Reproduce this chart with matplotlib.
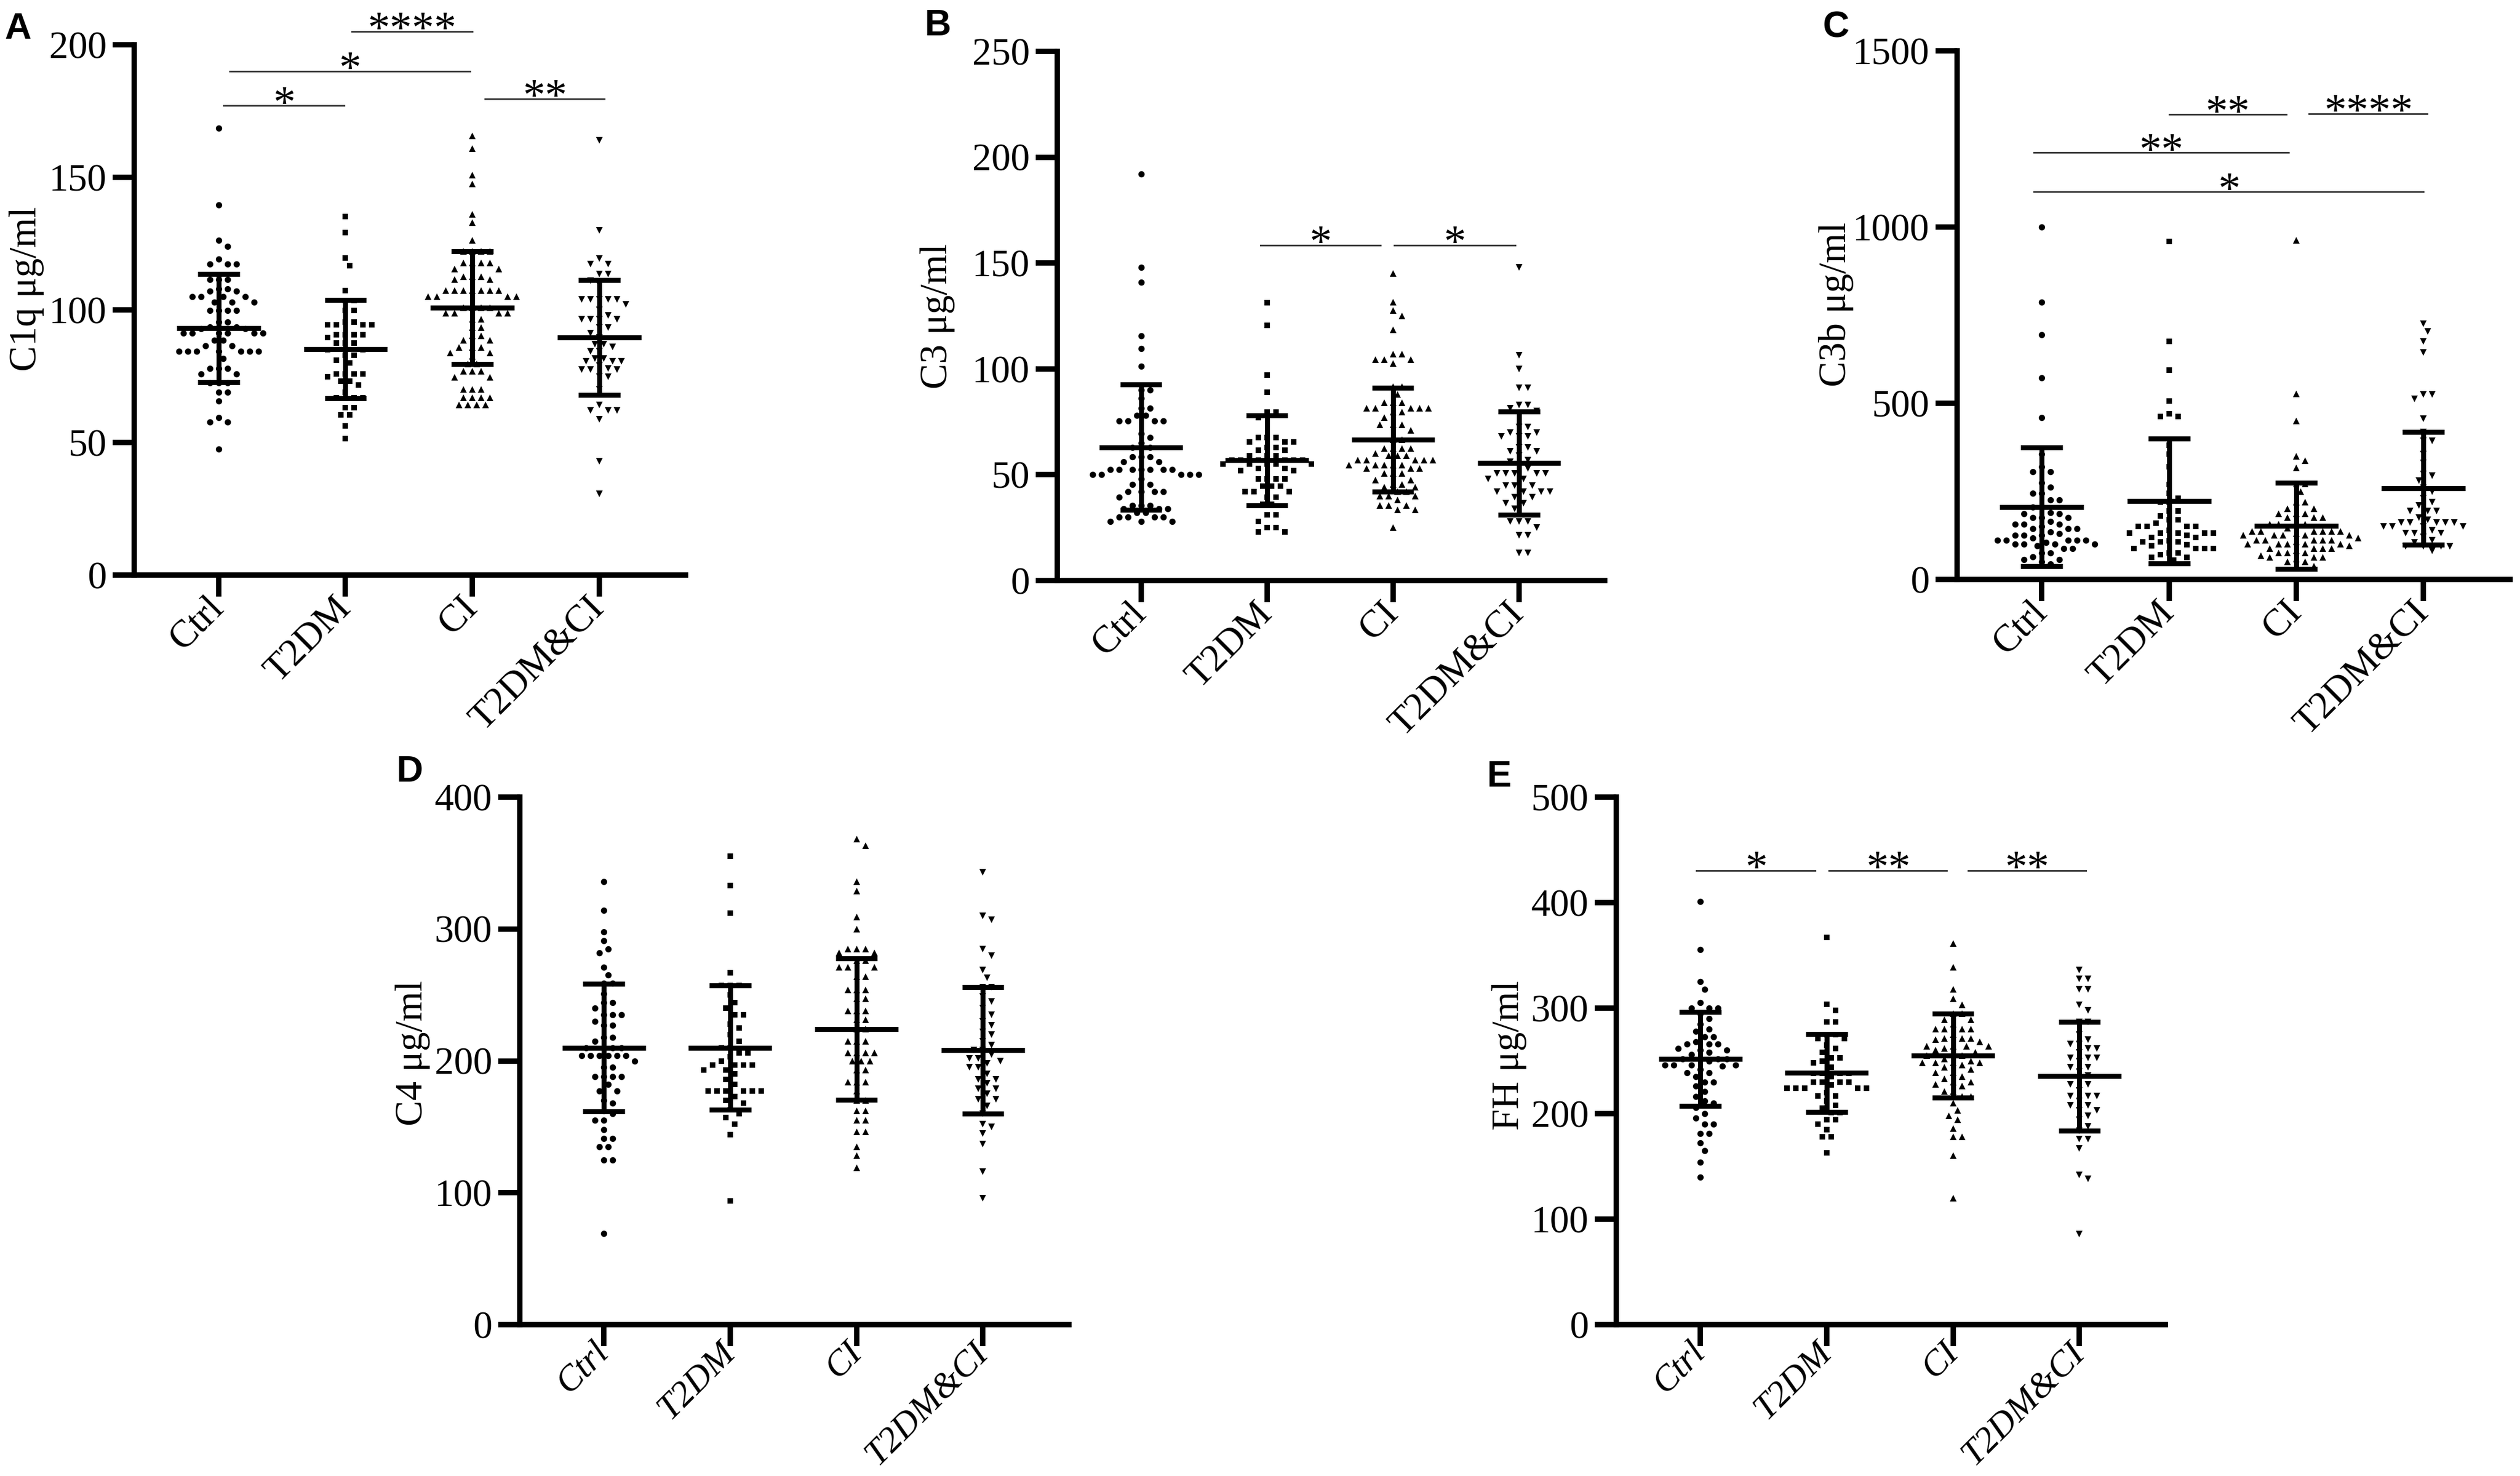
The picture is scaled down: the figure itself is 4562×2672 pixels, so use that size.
import matplotlib
matplotlib.use("Agg")
import matplotlib.pyplot as plt
import numpy as np

plt.rcParams['font.family'] = ['Liberation Serif', 'DejaVu Serif']

groups = ['Ctrl', 'T2DM', 'CI', 'T2DM&CI']
markers = ['o', 's', '^', 'v']
msizes = [8.2, 7.4, 8.8, 8.8]

# ---- C1q (A) ----
c1q_ctrl = [168.5, 139.6, 126.3, 123.9, 119.2, 117.3, 117.3, 117.3, 111.4, 111.4, 111.4, 108, 108, 107, 107,
            105, 105, 105, 105, 103, 103, 103, 99.7, 99.7, 99.7, 99.7, 95.5, 95.5, 93.5, 93.5, 93, 93,
            91.2, 91.2, 91.2, 91.2, 91.2, 91.2, 88.6, 88.6, 86.4, 86.4, 84.3, 84.3, 84.3, 84.3, 84.3, 84.3, 84.3,
            81.7, 78, 78, 78, 75.8, 75.8, 72.6, 72.6, 72.6, 68.9, 68.9, 65.7, 59.3, 57.7, 57.7, 47.6]
c1q_t2dm = [135.3, 129.2, 119.6, 116.7, 107.2, 103.5, 103.5, 99.7, 99.7, 95.5, 95.5, 94.4, 94.4, 94.4, 94.4,
            90.7, 90.7, 90.7, 90.7, 89.5, 87.5, 87.5, 87.5, 85, 85, 83, 83, 81.1, 80, 75.8, 75.8, 75.8, 75.8,
            74.8, 73.2, 73.2, 71.6, 68.9, 66.8, 66.8, 66.8, 63.1, 63.1, 60.4, 60.4, 56.2, 51.4]
c1q_ci = [165.6, 160.9, 150.8, 147.4, 136.1, 132.9, 126.3, 122, 122, 122, 122, 117.8, 117.8, 117.8, 117.8,
          115.5, 115.5, 112.5, 112.5, 112.5, 111.5, 111.5, 107.2, 107.2, 107.2, 107.2, 107.2, 107.2, 107.2,
          105, 105, 105, 105, 100.8, 100.8, 100.8, 100.8, 98.7, 98.7, 98.7, 98.7, 96.5, 96.5, 93.4, 93.4,
          90.2, 90.2, 88.6, 88.6, 85.9, 85.9, 85.9, 83.8, 83.8, 82.5, 79.5, 79.5, 76.9, 76.9, 76.9,
          74.5, 74.5, 70, 70, 70, 66.8, 66.8, 66.8, 66.8, 64.1, 64.1, 64.1, 64.1]
c1q_t2dmci = [164, 130, 119.4, 117.3, 117.3, 113.5, 113.5, 111, 109.3, 104, 104, 104, 104, 104, 102, 100, 98,
              96.5, 96.5, 96.5, 96.5, 93.4, 93.4, 91.2, 89.6, 87, 87, 86, 84.3, 84.3, 81.7, 81.7, 80.6, 80.6,
              80.6, 79, 78, 77.4, 77.4, 77.4, 74.8, 74.8, 70, 64.1, 62, 62, 62, 58.8, 42.9, 30.6]
c1q_mean = [93.2, 85.2, 100.8, 89.6]
c1q_sd = [20.4, 18.5, 21.2, 21.6]

# ---- C3 (B) ----
c3_ctrl = [192, 148, 141, 115.5, 109.7, 101.2, 90, 90, 86, 81.5, 81.5, 78, 78, 75.5, 75.5, 75.5, 75.5, 69.5,
           67.5, 65, 63, 63, 58.5, 58.5, 58.5, 56, 56, 52.5, 52.5, 52.5, 52.5, 52.5, 52.5, 52.5, 50, 50, 50,
           50, 50, 48, 45.5, 45.5, 42, 42, 42, 42, 39.5, 35.5, 35.5, 35.5, 34, 34, 34, 32, 32, 30, 30, 30, 30,
           28, 28, 28]
c3_t2dm = [131.2, 120.5, 97, 89, 79.5, 79.5, 77, 67.5, 67.5, 67.5, 65.5, 65.5, 65.5, 63, 63, 61.5, 61.5, 59,
           59, 59, 57, 57, 57, 57, 57, 57, 55, 55, 55, 55, 55, 53, 53, 52, 52, 48, 48, 48, 48, 44.5, 44.5, 44.5,
           42, 42, 42, 39.5, 39.5, 36, 36, 31, 31, 28, 25, 25, 23, 23]
c3_ci = [145, 131.5, 127.5, 125, 118.5, 107, 107, 104.5, 104.5, 104.5, 102.5, 91.5, 91.5, 88, 84, 84, 84,
         81.5, 81.5, 81.5, 81.5, 81.5, 79.5, 79.5, 77, 73.5, 73.5, 73.5, 71, 66.5, 66.5, 62.5, 62.5, 62.5, 62.5,
         60, 59, 59, 59, 57, 57, 57, 57, 57, 54.5, 54.5, 54.5, 54.5, 54.5, 53, 53, 53, 50.5, 50.5, 50.5, 47.5,
         47.5, 45.5, 45.5, 44, 44, 42, 42, 40, 40, 40, 38, 35.5, 35.5, 35.5, 33.5, 33.5, 25]
c3_t2dmci = [148, 106.5, 100, 91, 91, 83, 83, 81.5, 80, 72.5, 72.5, 70, 70, 68, 68, 68, 63, 63, 61, 61, 59,
             57, 56, 54, 53, 50.5, 50.5, 50.5, 50.5, 50.5, 48, 48, 45, 45, 45, 42, 42, 42, 42, 39.5, 39.5,
             36.5, 36.5, 34, 28, 28, 28, 25, 21.5, 21.5, 13, 13]
c3_mean = [63, 56.8, 66.5, 55.5]
c3_sd = [29.7, 21.2, 24.6, 24.4]

# ---- C3b (C) ----
c3b_ctrl = [1000, 787, 694, 572, 459, 356, 319, 306, 306, 275, 262, 244, 244, 225, 225, 206, 206, 190, 187,
            187, 175, 175, 175, 165, 156, 156, 156, 150, 144, 144, 144, 135, 130, 125, 125, 125, 118, 112,
            112, 112, 112, 112, 105, 100, 100, 100, 100, 95, 87, 87, 75, 75, 65, 56, 56, 50, 44]
c3b_t2dm = [960, 675, 594, 506, 471, 462, 462, 381, 356, 319, 269, 244, 230, 219, 219, 194, 194, 180, 169,
            169, 160, 150, 150, 150, 150, 140, 131, 131, 131, 131, 131, 125, 119, 119, 110, 106, 106, 106,
            98, 95, 87, 87, 87, 87, 75, 75, 70, 62, 62, 55]
c3b_ci = [962, 527, 450, 350, 337, 316, 271, 271, 250, 219, 219, 200, 200, 187, 187, 187, 175, 175, 175,
          156, 156, 156, 156, 145, 137, 137, 137, 137, 137, 137, 130, 125, 125, 125, 125, 125, 118, 112,
          112, 112, 112, 112, 106, 100, 100, 100, 100, 100, 95, 87, 87, 87, 87, 82, 75, 75, 75, 68, 62, 62,
          62, 58, 50, 50, 37]
c3b_t2dmci = [725, 704, 675, 644, 525, 525, 512, 456, 419, 394, 394, 356, 331, 300, 294, 280, 260, 250, 231,
              220, 210, 194, 194, 194, 175, 170, 162, 162, 162, 162, 162, 150, 150, 150, 150, 140, 131, 131,
              131, 120, 112, 105, 94, 94, 94, 94, 81]
c3b_mean = [206, 222, 152, 259]
c3b_sd = [169, 177, 122, 160]

# ---- C4 (D) ----
c4_ctrl = [336, 314, 298, 291, 285, 282, 271, 265, 259, 259, 251, 244, 244, 240, 235, 235, 235, 230, 227,
           227, 218, 218, 215, 210, 210, 210, 210, 204, 204, 204, 204, 204, 204, 200, 195, 195, 188, 188, 188,
           188, 182, 177, 177, 170, 168, 162, 160, 155, 155, 148, 141, 141, 135, 135, 125, 125, 69]
c4_t2dm = [355, 333, 312, 267, 257, 257, 257, 250, 244, 240, 235, 235, 228, 225, 220, 215, 210, 210, 206,
           206, 203, 200, 197, 197, 197, 197, 193, 193, 190, 186, 182, 177, 177, 177, 177, 177, 177, 173,
           170, 168, 163, 160, 157, 152, 144, 94]
c4_ci = [368, 363, 336, 329, 309, 300, 285, 285, 285, 282, 282, 276, 276, 271, 271, 271, 264, 264, 254, 254,
         254, 247, 247, 238, 238, 238, 231, 231, 224, 224, 215, 215, 215, 206, 206, 206, 206, 200, 200, 200,
         193, 193, 184, 184, 184, 177, 170, 170, 162, 162, 155, 155, 146, 146, 135, 128, 119]
c4_t2dmci = [343, 310, 307, 285, 280, 269, 263, 256, 256, 249, 245, 240, 235, 230, 227, 222, 220, 215, 212,
             208, 208, 205, 202, 202, 200, 198, 195, 195, 190, 186, 186, 183, 179, 179, 175, 171, 171, 166,
             160, 152, 150, 145, 137, 116, 96]
c4_mean = [210, 210, 224, 208]
c4_sd = [48.5, 47, 53.5, 48]

# ---- FH (E) ----
fh_ctrl = [401, 355.5, 325, 318, 305, 300, 300, 300, 295, 290, 285, 280, 278, 273, 273, 268, 266, 266, 266,
           262, 260, 260, 258, 256, 252, 252, 252, 252, 250, 246, 246, 246, 246, 245, 242, 239, 239, 235,
           230, 230, 226, 221, 216, 212, 210, 206, 200, 196, 190, 190, 181, 181, 172, 165, 154, 140]
fh_t2dm = [367, 303.5, 298, 287, 287, 275, 275, 271, 271, 265, 262, 258, 253, 253, 250, 248, 244, 238, 238,
           238, 238, 235, 230, 230, 230, 230, 227, 224, 224, 224, 224, 224, 220, 217, 217, 212, 208, 205,
           201, 201, 194, 194, 190, 185, 178, 178, 163]
fh_ci = [361, 339, 318, 309, 303, 295, 295, 289, 289, 285, 280, 280, 280, 280, 275, 271, 271, 271, 270, 268,
         264, 264, 264, 264, 262, 260, 258, 256, 255, 255, 252, 250, 248, 248, 248, 248, 246, 244, 242, 239,
         239, 235, 233, 230, 230, 228, 226, 221, 221, 216, 216, 210, 203, 198, 194, 186, 178, 178, 160, 120]
fh_t2dmci = [336, 327.5, 327.5, 318, 318, 303, 298, 287, 287, 275, 270, 266, 266, 262, 262, 258, 253, 253,
             253, 250, 244, 244, 240, 236, 232, 228, 228, 222, 217, 217, 217, 212, 208, 208, 203, 203, 198,
             194, 188, 184, 176, 176, 167, 142, 138, 86]
fh_mean = [252, 238.5, 255, 235.5]
fh_sd = [44.5, 37, 40, 51.5]

# significance bars: (x start, x end, y level, label) in group units
c1q_sig = [(0.04, 0.99, 177, '*'), (0.09, 1.98, 190, '*'), (1.05, 2.0, 205, '****'), (2.1, 3.04, 179.6, '**')]
c3_sig = [(0.95, 1.9, 158.4, '*'), (2.01, 2.97, 158.4, '*')]
c3b_sig = [(1.0, 1.92, 1319, '**'), (2.1, 3.03, 1322, '****'), (-0.06, 1.94, 1211, '**'), (-0.06, 3.0, 1100, '*')]
fh_sig = [(-0.03, 0.91, 430.5, '*'), (1.02, 1.95, 430.5, '**'), (2.12, 3.05, 430.5, '**')]

W, H = 4562, 2672
DPI = 100
fig = plt.figure(figsize=(W / DPI, H / DPI), dpi=DPI)


def swarm(ax, center, values, step_px):
    pts = ax.transData.transform(np.column_stack([np.full(len(values), center), values]))
    cx = pts[0, 0]
    ys = pts[:, 1]
    order = np.argsort(-ys, kind='stable')
    placed = []
    xs = np.zeros(len(values))
    cands = [0.0]
    for k in range(1, 60):
        cands += [k * step_px / 2, -k * step_px / 2]
    for idx in order:
        y = ys[idx]
        for c in cands:
            x = cx + c
            ok = True
            for px, py in placed:
                if (px - x) ** 2 + (py - y) ** 2 < (step_px * 0.92) ** 2:
                    ok = False
                    break
            if ok:
                break
        placed.append((x, y))
        xs[idx] = x
    back = ax.transData.inverted().transform(np.column_stack([xs, ys]))
    return back[:, 0]


def panel(rect, letter, letter_xy, ylabel, ylab_pos, ymax, ystep, data, means, sds, sigs, italic_x):
    ax = fig.add_axes(rect)
    ax.set_xlim(-0.665, 3.68)
    ax.set_ylim(0, ymax)
    for s in ['top', 'right']:
        ax.spines[s].set_visible(False)
    for s in ['left', 'bottom']:
        ax.spines[s].set_linewidth(7)
    ax.set_yticks(np.arange(0, ymax + 1, ystep))
    ax.set_xticks(range(4))
    ax.tick_params(axis='both', width=7, length=28, labelsize=50, pad=8)
    if italic_x:
        ax.tick_params(axis='x', pad=2)
    ax.set_xticklabels(groups, rotation=45, ha='right', va='center', rotation_mode='anchor',
                       style='italic' if italic_x else 'normal', fontsize=47 if italic_x else 50)
    ax.set_ylabel(ylabel, fontsize=50, va='center')
    ax.yaxis.set_label_coords(ylab_pos[0], ylab_pos[1])

    for i, vals in enumerate(data):
        xs = swarm(ax, i, vals, 16)
        ax.plot(xs, vals, linestyle='none', marker=markers[i], markersize=msizes[i],
                color='black', markeredgewidth=0, zorder=2, clip_on=False)
        m, sd = means[i], sds[i]
        ax.hlines(m, i - 0.33, i + 0.33, color='black', linewidth=6.5, zorder=3)
        ax.hlines([m - sd, m + sd], i - 0.165, i + 0.165, color='black', linewidth=6.5, zorder=3)
        ax.vlines(i, m - sd, m + sd, color='black', linewidth=6.5, zorder=3)

    for x1, x2, y, lab in sigs:
        ax.plot([x1, x2], [y, y], color='#3a3a3a', linewidth=2.2, clip_on=False, zorder=4)
        ax.annotate(lab, xy=((x1 + x2) / 2, y), xytext=(0, -14), textcoords='offset points',
                    ha='center', va='baseline', fontsize=58, annotation_clip=False)

    fig.text(letter_xy[0] / W, 1 - letter_xy[1] / H, letter, fontsize=48, fontweight='bold',
             family='Liberation Sans', ha='left', va='top')
    return ax


panel([243 / W, 1 - 1041 / H, 998 / W, 960 / H], 'A', (8, 22), 'C1q \u03bcg/ml', (-0.195, 0.54),
      200, 50, [c1q_ctrl, c1q_t2dm, c1q_ci, c1q_t2dmci], c1q_mean, c1q_sd, c1q_sig, False)
panel([1914 / W, 1 - 1051 / H, 991 / W, 958 / H], 'B', (1673, 16), 'C3 \u03bcg/ml', (-0.219, 0.5),
      250, 50, [c3_ctrl, c3_t2dm, c3_ci, c3_t2dmci], c3_mean, c3_sd, c3_sig, False)
panel([3543 / W, 1 - 1049 / H, 1001 / W, 957 / H], 'C', (3299, 20), 'C3b \u03bcg/ml', (-0.219, 0.52),
      1500, 500, [c3b_ctrl, c3b_t2dm, c3b_ci, c3b_t2dmci], c3b_mean, c3b_sd, c3b_sig, False)
panel([941 / W, 1 - 2398 / H, 994 / W, 955 / H], 'D', (717, 1367), 'C4 \u03bcg/ml', (-0.195, 0.515),
      400, 100, [c4_ctrl, c4_t2dm, c4_ci, c4_t2dmci], c4_mean, c4_sd, [], True)
panel([2926 / W, 1 - 2398 / H, 994 / W, 955 / H], 'E', (2692, 1376), 'FH \u03bcg/ml', (-0.195, 0.51),
      500, 100, [fh_ctrl, fh_t2dm, fh_ci, fh_t2dmci], fh_mean, fh_sd, fh_sig, True)

fig.savefig('out.png', dpi=DPI, facecolor='white')
